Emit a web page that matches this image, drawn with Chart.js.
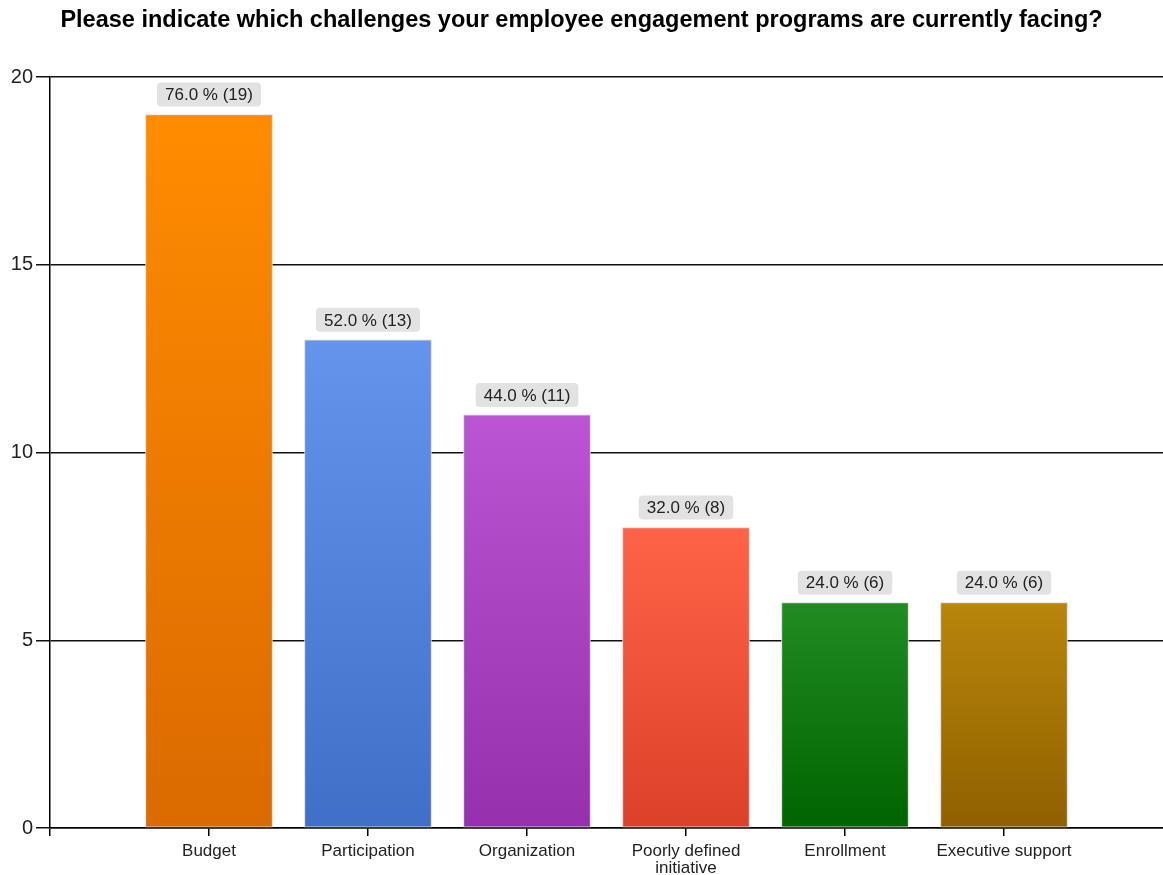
<!DOCTYPE html>
<html>
<head>
<meta charset="utf-8">
<script src="https://cdn.jsdelivr.net/npm/chart.js@4/dist/chart.umd.min.js"></script>
<style>
  html, body { margin: 0; padding: 0; background: #fff; }
  #wrap { width: 1163px; height: 875px; }
</style>
</head>
<body>
<div id="wrap"><canvas id="c" width="1163" height="875"></canvas></div>
<script>
const titleText = 'Please indicate which challenges your employee engagement programs are currently facing?';
const categories = ['Budget', 'Participation', 'Organization', ['Poorly defined', 'initiative'], 'Enrollment', 'Executive support'];
const counts = [19, 13, 11, 8, 6, 6];
const percents = [76.0, 52.0, 44.0, 32.0, 24.0, 24.0];
const yTicks = [0, 5, 10, 15, 20];
const topColors = ['#FF8C00', '#6495ED', '#BA55D3', '#FF6347', '#228B22', '#B8860B'];
const bottomColors = ['#DB6A00', '#3F6FC7', '#9531AC', '#DC4028', '#006400', '#8F6000'];

// padded category axis: empty slot at each end so bars sit at 1..6 of 0..7
const labels = [''].concat(categories, ['']);
const values = [null].concat(counts, [null]);
const tops = [null].concat(topColors, [null]);
const bottoms = [null].concat(bottomColors, [null]);
const pcts = [null].concat(percents, [null]);

const FONT = '"Liberation Sans", Arial, sans-serif';

const barLabelPlugin = {
  id: 'barLabels',
  afterDatasetsDraw(chart) {
    const ctx = chart.ctx;
    const meta = chart.getDatasetMeta(0);
    ctx.save();
    ctx.font = '17px ' + FONT;
    ctx.textAlign = 'center';
    ctx.textBaseline = 'middle';
    meta.data.forEach((bar, i) => {
      const v = values[i];
      if (v === null || v === undefined) return;
      const txt = pcts[i].toFixed(1) + ' % (' + v + ')';
      const w = ctx.measureText(txt).width + 16;
      const h = 24;
      const x = bar.x - w / 2;
      const y = bar.y - 8 - h;
      ctx.fillStyle = '#E2E2E2';
      ctx.beginPath();
      ctx.roundRect(x, y, w, h, 4);
      ctx.fill();
      ctx.fillStyle = '#222';
      ctx.fillText(txt, bar.x, y + h / 2 + 1);
    });
    ctx.restore();
  }
};

new Chart(document.getElementById('c'), {
  type: 'bar',
  data: {
    labels: labels,
    datasets: [{
      data: values,
      barThickness: 127,
      borderWidth: 1,
      borderColor: '#D8D8D8',
      borderSkipped: false,
      backgroundColor: (c) => {
        const chart = c.chart;
        const i = c.dataIndex;
        if (!tops[i]) return 'rgba(0,0,0,0)';
        const area = chart.chartArea;
        if (!area || !chart.scales.y) return tops[i];
        const yTop = chart.scales.y.getPixelForValue(values[i]);
        const g = chart.ctx.createLinearGradient(0, yTop, 0, area.bottom);
        g.addColorStop(0, tops[i]);
        g.addColorStop(1, bottoms[i]);
        return g;
      }
    }]
  },
  options: {
    responsive: false,
    animation: false,
    layout: { padding: { left: 0, right: 0, top: 0, bottom: 0 } },
    plugins: {
      legend: { display: false },
      tooltip: { enabled: false },
      title: {
        display: true,
        text: titleText,
        color: '#000',
        font: { family: FONT, size: 23.5, weight: 'bold', lineHeight: 1.2 },
        padding: { top: 6, bottom: 42.8 }
      }
    },
    scales: {
      x: {
        offset: false,
        grid: {
          display: true, offset: false, drawOnChartArea: false, drawTicks: true, tickLength: 8,
          color: '#000', lineWidth: 1.5,
          tickColor: (c) => (c.index === labels.length - 1 ? 'rgba(0,0,0,0)' : '#000')
        },
        border: { display: true, color: '#000', width: 1.5 },
        ticks: {
          color: '#222',
          font: { family: FONT, size: 17, lineHeight: 1.0 },
          padding: 7,
          maxRotation: 0,
          autoSkip: false
        },
        afterFit: (s) => { s.height = 47; s.paddingLeft = 0; s.paddingRight = 0; }
      },
      y: {
        min: 0,
        max: 20,
        afterBuildTicks: (s) => { s.ticks = yTicks.map(v => ({ value: v })); },
        grid: { display: true, drawOnChartArea: true, drawTicks: true, tickLength: 14, color: '#111', lineWidth: 1.5 },
        border: { display: true, color: '#000', width: 1.5 },
        ticks: {
          color: '#222',
          font: { family: FONT, size: 20 },
          padding: 3
        },
        afterFit: (s) => { s.width = 50; }
      }
    }
  },
  plugins: [barLabelPlugin]
});
</script>
</body>
</html>
